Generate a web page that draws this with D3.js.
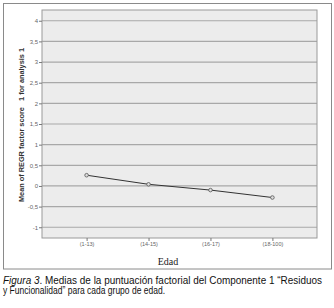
<!DOCTYPE html>
<html>
<head>
<title>Medias por grupo de edad</title>
<style>
  body { margin: 0; background: #fff; }
  .tick text { font-family: "Liberation Sans", Arial, sans-serif; fill: #666; }
  .caption { font-family: "Liberation Sans", Arial, sans-serif; font-size: 10px; fill: #111; }
</style>
</head>
<body>
<script src="https://cdnjs.cloudflare.com/ajax/libs/d3/7.8.5/d3.min.js"></script>
<script>
var groups = ["(1-13)", "(14-15)", "(16-17)", "(18-100)"];
var means = [0.26, 0.04, -0.10, -0.28];
var yTicks = [-1, -0.5, 0, 0.5, 1, 1.5, 2, 2.5, 3, 3.5, 4];

var width = 334, height = 308;
var plot = { left: 42, top: 10, right: 317, bottom: 238 };

var svg = d3.select("body").append("svg")
  .attr("width", width)
  .attr("height", height);

// outer frame
svg.append("rect")
  .attr("x", 3.5).attr("y", 3.5)
  .attr("width", 328).attr("height", 265.5)
  .attr("fill", "#fff")
  .attr("stroke", "#8a8a8a");

var x = d3.scalePoint()
  .domain(groups)
  .range([plot.left, plot.right])
  .padding(0.72);

var y = d3.scaleLinear()
  .domain([-1.26, 4.26])
  .range([plot.bottom, plot.top]);

var fmt = d3.formatLocale({ decimal: ",", thousands: ".", grouping: [3], currency: ["", ""], minus: "-" }).format("");

svg.append("rect")
  .attr("x", plot.left).attr("y", plot.top)
  .attr("width", plot.right - plot.left).attr("height", plot.bottom - plot.top)
  .attr("fill", "#ececec");

// grid lines
svg.append("g")
  .selectAll("line")
  .data(yTicks)
  .enter().append("line")
  .attr("x1", plot.left).attr("x2", plot.right)
  .attr("y1", function(d) { return y(d); })
  .attr("y2", function(d) { return y(d); })
  .attr("stroke", "#a8a8a8")
  .attr("stroke-width", 1.2);

svg.append("rect")
  .attr("x", plot.left).attr("y", plot.top)
  .attr("width", plot.right - plot.left).attr("height", plot.bottom - plot.top)
  .attr("fill", "none")
  .attr("stroke", "#9a9a9a");

var yAxis = svg.append("g")
  .attr("transform", "translate(" + plot.left + ",0)")
  .call(d3.axisLeft(y).tickValues(yTicks).tickFormat(fmt).tickSize(3).tickPadding(1));
yAxis.select(".domain").remove();
yAxis.selectAll(".tick line").attr("stroke", "#777");
yAxis.selectAll(".tick text").style("font-size", "6px");

var xAxis = svg.append("g")
  .attr("transform", "translate(0," + plot.bottom + ")")
  .call(d3.axisBottom(x).tickSize(3).tickPadding(1));
xAxis.select(".domain").remove();
xAxis.selectAll(".tick line").attr("stroke", "#777");
xAxis.selectAll(".tick text").style("font-size", "5.5px");

var line = d3.line()
  .x(function(d, i) { return x(groups[i]); })
  .y(function(d) { return y(d); });

svg.append("path")
  .datum(means)
  .attr("d", line)
  .attr("fill", "none")
  .attr("stroke", "#333")
  .attr("stroke-width", 1);

svg.selectAll(".pt")
  .data(means)
  .enter().append("circle")
  .attr("class", "pt")
  .attr("cx", function(d, i) { return x(groups[i]); })
  .attr("cy", function(d) { return y(d); })
  .attr("r", 1.8)
  .attr("fill", "#ddd")
  .attr("stroke", "#555")
  .attr("stroke-width", 0.8);

// axis titles
svg.append("text")
  .attr("transform", "translate(24,125) rotate(-90)")
  .attr("text-anchor", "middle")
  .style("font-family", "'Liberation Sans', Arial, sans-serif")
  .style("font-size", "6.5px")
  .style("font-weight", "bold")
  .style("fill", "#333")
  .style("white-space", "pre")
  .attr("textLength", 154)
  .attr("lengthAdjust", "spacingAndGlyphs")
  .text("Mean of REGR factor score   1 for analysis 1");

svg.append("text")
  .attr("x", 168).attr("y", 265)
  .attr("text-anchor", "middle")
  .style("font-family", "'Liberation Serif', 'Times New Roman', serif")
  .style("font-size", "10px")
  .style("fill", "#222")
  .text("Edad");

// caption
var c1 = svg.append("text")
  .attr("class", "caption")
  .attr("x", 3).attr("y", 283.5)
  .attr("textLength", 319)
  .attr("lengthAdjust", "spacingAndGlyphs");
c1.append("tspan").style("font-style", "italic").text("Figura 3");
c1.append("tspan").text(". Medias de la puntuación factorial del Componente 1 \u201CResiduos");

svg.append("text")
  .attr("class", "caption")
  .attr("x", 3).attr("y", 293.5)
  .attr("textLength", 162)
  .attr("lengthAdjust", "spacingAndGlyphs")
  .text("y Funcionalidad\u201D para cada grupo de edad.");
</script>
</body>
</html>
